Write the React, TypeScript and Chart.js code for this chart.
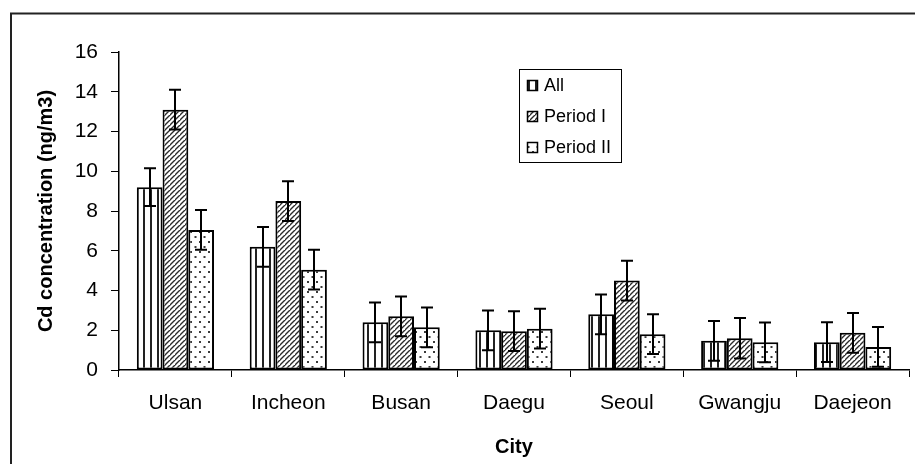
import React, { useEffect, useRef } from "react";
import { Chart, registerables } from "chart.js";

Chart.register(...registerables);

const cities = ["Ulsan", "Incheon", "Busan", "Daegu", "Seoul", "Gwangju", "Daejeon"];
const seriesNames = ["All", "Period I", "Period II"];
const allValues = [9.2, 6.2, 2.4, 2.0, 2.8, 1.47, 1.4];
const period1Values = [13.1, 8.5, 2.7, 1.95, 4.5, 1.6, 1.87];
const period2Values = [7.05, 5.05, 2.15, 2.08, 1.8, 1.39, 1.16];
const allErrors = [0.95, 1.0, 1.0, 1.0, 1.0, 1.0, 1.0];
const period1Errors = [1.0, 1.0, 1.0, 1.0, 1.0, 1.02, 1.0];
const period2Errors = [1.0, 1.0, 1.0, 1.0, 1.0, 1.0, 1.0];
const yMin = 0;
const yMax = 16;
const yStep = 2;
const yTitle = "Cd concentration (ng/m3)";
const xTitle = "City";

const FONT = "'Liberation Sans', Arial, sans-serif";

function makePattern(kind: string): CanvasPattern | string {
  const c = document.createElement("canvas");
  let w = 7, h = 7;
  if (kind === "diag") { w = 5; h = 5; }
  if (kind === "dots") { w = 9; h = 10; }
  c.width = w;
  c.height = h;
  const g = c.getContext("2d")!;
  g.fillStyle = "#fff";
  g.fillRect(0, 0, w, h);
  if (kind === "vert") {
    g.fillStyle = "#222";
    g.fillRect(3, 0, 2, h);
  } else if (kind === "diag") {
    g.strokeStyle = "#2a2a2a";
    g.lineWidth = 1.4;
    g.beginPath();
    g.moveTo(-1, h + 1);
    g.lineTo(w + 1, -1);
    g.moveTo(-1 - w, h + 1);
    g.lineTo(1, -1);
    g.moveTo(w - 1, 2 * h + 1);
    g.lineTo(2 * w + 1, h - 1);
    g.stroke();
  } else {
    g.fillStyle = "#3a3a3a";
    g.fillRect(1, 1, 2, 2);
    g.fillRect(5.5, 6, 2, 2);
  }
  const p = g.createPattern(c, "repeat");
  return p || "#fff";
}

export default function App() {
  const ref = useRef<HTMLCanvasElement | null>(null);
  useEffect(() => {
    if (!ref.current) return;
    const patterns = [makePattern("vert"), makePattern("diag"), makePattern("dots")];
    const values = [allValues, period1Values, period2Values];
    const errors = [allErrors, period1Errors, period2Errors];

    const decorPlugin = {
      id: "decor",
      beforeDraw(chart: any) {
        const ctx = chart.ctx;
        ctx.save();
        ctx.fillStyle = "#fff";
        ctx.fillRect(0, 0, chart.width, chart.height);
        ctx.strokeStyle = "#222";
        ctx.lineWidth = 2;
        ctx.strokeRect(11, 13.5, 1200, 1200);
        ctx.restore();
      },
      afterDatasetsDraw(chart: any) {
        const ctx = chart.ctx;
        const ys = chart.scales.y;
        ctx.save();
        ctx.strokeStyle = "#000";
        ctx.lineWidth = 2;
        chart.data.datasets.forEach((ds: any, i: number) => {
          const meta = chart.getDatasetMeta(i);
          meta.data.forEach((el: any, j: number) => {
            const v = values[i][j];
            const e = errors[i][j];
            const x = Math.round(el.x);
            const yt = ys.getPixelForValue(v + e);
            const yb = ys.getPixelForValue(v - e);
            ctx.beginPath();
            ctx.moveTo(x, yt);
            ctx.lineTo(x, yb);
            ctx.moveTo(x - 6, yt);
            ctx.lineTo(x + 6, yt);
            ctx.moveTo(x - 6, yb);
            ctx.lineTo(x + 6, yb);
            ctx.stroke();
          });
        });
        ctx.restore();
      },
      afterDraw(chart: any) {
        const ctx = chart.ctx;
        const ca = chart.chartArea;
        ctx.save();
        ctx.fillStyle = "#000";
        ctx.font = `bold 20px ${FONT}`;
        ctx.textAlign = "center";
        ctx.textBaseline = "middle";
        ctx.fillText(xTitle, (ca.left + ca.right) / 2, 447);
        ctx.save();
        ctx.translate(46, (ca.top + ca.bottom) / 2);
        ctx.rotate(-Math.PI / 2);
        ctx.fillText(yTitle, 0, 0);
        ctx.restore();
        const lx = 519.5, ly = 69.5, lw = 102, lh = 93;
        ctx.fillStyle = "#fff";
        ctx.fillRect(lx, ly, lw, lh);
        ctx.strokeStyle = "#000";
        ctx.lineWidth = 1;
        ctx.strokeRect(lx, ly, lw, lh);
        const rows = [85, 116, 147];
        ctx.font = `18px ${FONT}`;
        ctx.textAlign = "left";
        chart.data.datasets.forEach((ds: any, i: number) => {
          const cy = rows[i];
          ctx.fillStyle = patterns[i] as any;
          ctx.fillRect(527, cy - 5, 11, 11);
          ctx.strokeStyle = "#000";
          ctx.lineWidth = 1.5;
          ctx.strokeRect(527.5, cy - 4.5, 10, 10);
          ctx.fillStyle = "#000";
          ctx.fillText(ds.label, 544, cy + 1);
        });
        ctx.restore();
      },
    };

    const chart = new Chart(ref.current, {
      type: "bar",
      data: {
        labels: cities,
        datasets: seriesNames.map((name, i) => ({
          label: name,
          data: values[i],
          backgroundColor: patterns[i] as any,
          borderColor: "#000",
          borderWidth: 2,
          borderSkipped: false,
          categoryPercentage: 0.684,
          barPercentage: 1.0,
        })),
      },
      options: {
        animation: false,
        responsive: false,
        maintainAspectRatio: false,
        events: [],
        layout: { padding: { left: 0, top: 52, right: 6, bottom: 0 } },
        plugins: {
          legend: { display: false },
          tooltip: { enabled: false },
          title: { display: false },
        },
        scales: {
          x: {
            offset: true,
            grid: {
              display: true,
              drawOnChartArea: false,
              offset: true,
              tickLength: 7,
              color: "#000",
              lineWidth: 1,
            },
            border: { display: true, color: "#000", width: 1.5 },
            ticks: {
              color: "#000",
              font: { size: 21, family: FONT },
              padding: 14,
              maxRotation: 0,
              autoSkip: false,
            },
            afterFit: (s: any) => {
              s.height = 94;
            },
          },
          y: {
            min: yMin,
            max: yMax,
            grid: {
              display: true,
              drawOnChartArea: false,
              tickLength: 8,
              color: "#000",
              lineWidth: 1,
            },
            border: { display: true, color: "#000", width: 1.5 },
            ticks: {
              stepSize: yStep,
              color: "#000",
              font: { size: 21, family: FONT },
              padding: 13,
            },
            afterFit: (s: any) => {
              s.width = 119;
            },
          },
        },
      },
      plugins: [decorPlugin],
    });
    return () => chart.destroy();
  }, []);

  return (
    <div style={{ position: "fixed", left: 0, top: 0, width: 915, height: 464, background: "#fff" }}>
      <canvas ref={ref} width={915} height={464} style={{ display: "block", width: 915, height: 464 }} />
    </div>
  );
}
